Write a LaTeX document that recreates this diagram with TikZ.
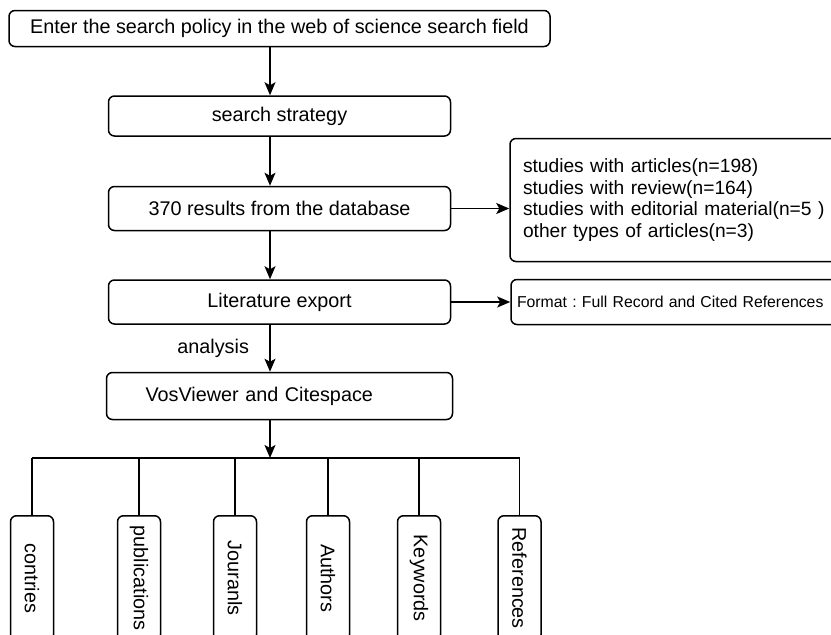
\documentclass[tikz,border=0pt]{standalone}
\usepackage{fontspec}
\setmainfont{Liberation Sans}
\frenchspacing
\usetikzlibrary{
	arrows.meta,
	positioning
}
\tikzset{
	>={Stealth[length=13pt, width=11pt, inset=3pt]},
	flowline/.style={line width=1.5pt},
	flowbox/.style={draw, line width=1.5pt, rounded corners=6pt, minimum width=342pt, minimum height=44pt},
	sidebox/.style={draw, line width=1.5pt, rounded corners=6pt, align=left, anchor=west},
	leafbox/.style={draw, line width=1.5pt, rounded corners=6pt, rotate=-90, anchor=west, minimum width=125pt, minimum height=43pt}
}

\begin{document}
\begin{tikzpicture}[x=1pt, y=-1pt, node distance=48pt, font=\fontsize{19.8}{21.7}\selectfont]
	\fill[white] (0,0) rectangle (831,635);
	\path[use as bounding box, clip] (0,0) rectangle (831,635);

	% main column
	\node[flowbox, minimum width=541pt, minimum height=36pt] (policy) at (279.5,28.5) {Enter the search policy in the web of science search field};
	\node[flowbox, minimum height=40pt] (strategy) [below=of policy] {search strategy};
	\node[flowbox] (results) [below=49pt of strategy] {370 results from the database};
	\node[flowbox] (export) [below=of results] {Literature export};
	\node[flowbox, minimum width=346pt, minimum height=47pt, text width=268pt, inner xsep=39pt, align=left] (tools) [below=47pt of export] {VosViewer and Citespace};

	% side boxes
	\node[sidebox, minimum height=123pt, text width=330pt, inner xsep=13pt, font=\fontsize{19.2}{21.7}\selectfont] (types) [right=58pt of results, yshift=8.5pt] {studies with articles(n=198)\\
		studies with review(n=164)\\
		studies with editorial material(n=5 )\\
		other types of articles(n=3)};
	\node[sidebox, minimum height=45pt, text width=330pt, inner xsep=6pt, font=\fontsize{15.8}{18}\selectfont] (format) [right=59pt of export] {Format : Full Record and Cited References};

	% analysis items
	\foreach \name/\x/\word in {contries/32/contries, pubs/139/publications, journals/235/Jouranls, authors/328/Authors, keywords/419/Keywords, refs/519.5/References}
		\node[leafbox] (\name) at (\x,515) {\word};

	\coordinate (spine) at (270,0);
	\coordinate (bus) at (270,458);

	\foreach \a/\b in {policy/strategy, strategy/results, results/export}
		\draw[flowline, ->] (\a.south -| spine) -- (\b.north -| spine);
	\draw[flowline, ->] (export.south -| spine) -- node[left=17pt] {analysis} (tools.north -| spine);
	\draw[flowline, ->] (results.east) -- (results.east -| types.west);
	\draw[flowline, ->] (export.east) -- (format.west);

	\draw[flowline, ->] (tools.south -| spine) -- (bus);
	\draw[flowline] (contries.west |- bus) -- (refs.west |- bus);
	\foreach \name in {contries, pubs, journals, authors, keywords, refs}
		\draw[flowline] (\name.west) -- (\name.west |- bus);
\end{tikzpicture}
\end{document}
